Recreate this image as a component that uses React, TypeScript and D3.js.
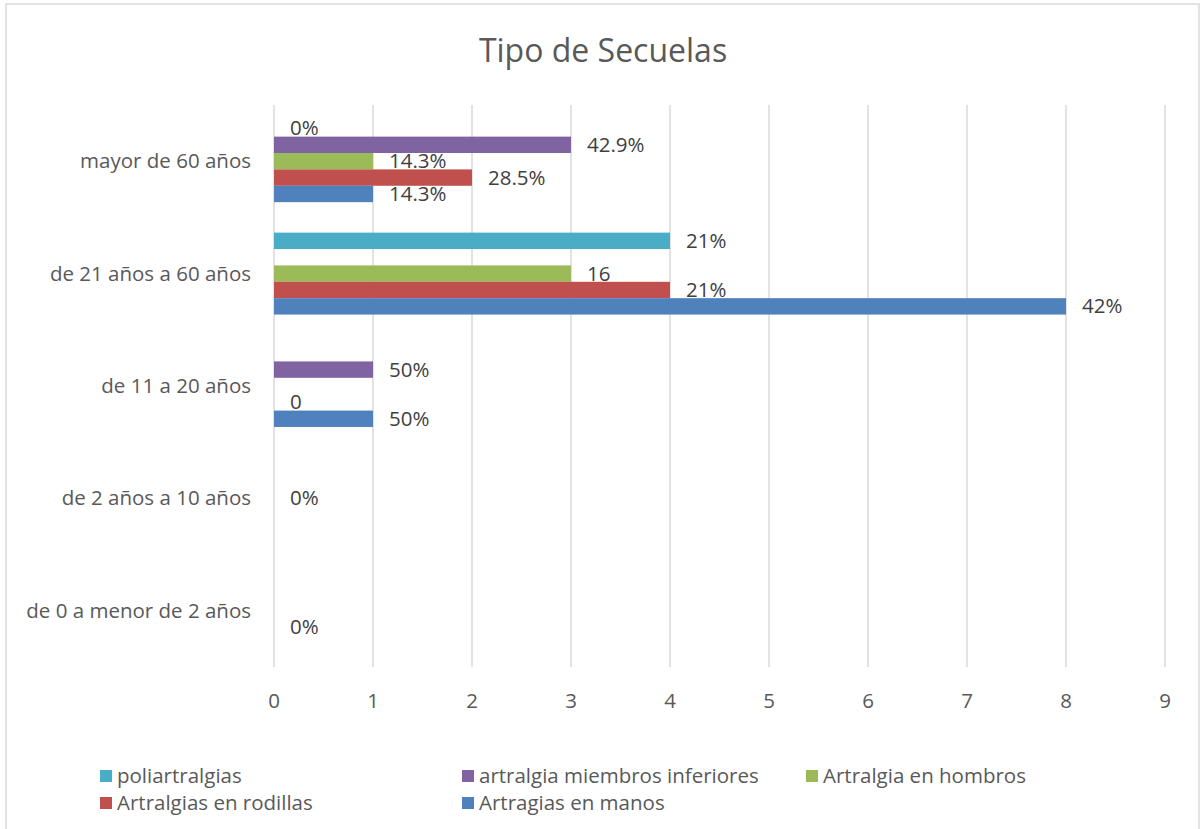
import React from "react";
import * as d3 from "d3";

const categories = [
  "de 0 a menor de 2 años",
  "de 2 años a 10 años",
  "de 11 a 20 años",
  "de 21 años a 60 años",
  "mayor de 60 años",
];

const seriesNames = [
  "poliartralgias",
  "artralgia miembros inferiores",
  "Artralgia en hombros",
  "Artralgias en rodillas",
  "Artragias en manos",
];

const seriesColors = ["#4bacc6", "#8064a2", "#9bbb59", "#c0504d", "#4f81bd"];

// values per category (same order as categories); null = no bar
const poliartralgias: (number | null)[] = [null, null, null, 4, 0];
const miembrosInferiores: (number | null)[] = [null, null, 1, null, 3];
const hombros: (number | null)[] = [null, 0, null, 3, 1];
const rodillas: (number | null)[] = [0, null, 0, 4, 2];
const manos: (number | null)[] = [null, null, 1, 8, 1];

const poliLabels: (string | null)[] = [null, null, null, "21%", "0%"];
const miembrosLabels: (string | null)[] = [null, null, "50%", null, "42.9%"];
const hombrosLabels: (string | null)[] = [null, "0%", null, "16", "14.3%"];
const rodillasLabels: (string | null)[] = ["0%", null, "0", "21%", "28.5%"];
const manosLabels: (string | null)[] = [null, null, "50%", "42%", "14.3%"];

const xTicks = [0, 1, 2, 3, 4, 5, 6, 7, 8, 9];

const seriesValues = [poliartralgias, miembrosInferiores, hombros, rodillas, manos];
const seriesLabels = [poliLabels, miembrosLabels, hombrosLabels, rodillasLabels, manosLabels];

const W = 1203;
const H = 829;
const FONT = "'Open Sans', 'Noto Sans', sans-serif";
const FS = 20.5;

export default function App() {
  const x = d3.scaleLinear().domain([0, 9]).range([274, 1165]);
  const y = d3
    .scaleBand<string>()
    .domain([...categories].reverse())
    .range([105, 667])
    .padding(0);
  const inner = d3
    .scaleBand<string>()
    .domain(seriesNames)
    .range([0, y.bandwidth()])
    .paddingInner(0)
    .paddingOuter(0.93);

  const legendItems = [
    { i: 0, lx: 100, ly: 776 },
    { i: 1, lx: 462, ly: 776 },
    { i: 2, lx: 806, ly: 776 },
    { i: 3, lx: 100, ly: 803 },
    { i: 4, lx: 462, ly: 803 },
  ];

  return (
    <svg
      width={W}
      height={H}
      style={{ position: "absolute", left: 0, top: 0, background: "#fff" }}
      fontFamily={FONT}
    >
      <rect x={6} y={4} width={1193} height={H} fill="#fff" stroke="#d9d9d9" strokeWidth={1.5} />
      <text x={603} y={62} textAnchor="middle" fontSize={32} fill="#595959">
        Tipo de Secuelas
      </text>

      {xTicks.map((t) => (
        <g key={t}>
          <line x1={x(t)} x2={x(t)} y1={105} y2={667} stroke="#d9d9d9" strokeWidth={1.5} />
          <text x={x(t)} y={708} textAnchor="middle" fontSize={FS} fill="#595959">
            {t}
          </text>
        </g>
      ))}

      {categories.map((c) => (
        <text
          key={c}
          x={251}
          y={(y(c) as number) + y.bandwidth() / 2 + 7}
          textAnchor="end"
          fontSize={FS}
          fill="#595959"
        >
          {c}
        </text>
      ))}

      {seriesNames.map((s, si) =>
        categories.map((c, ci) => {
          const v = seriesValues[si][ci];
          if (v === null) return null;
          const by = (y(c) as number) + (inner(s) as number);
          return (
            <rect
              key={s + c}
              x={x(0)}
              y={by}
              width={x(v) - x(0)}
              height={inner.bandwidth()}
              fill={seriesColors[si]}
            />
          );
        })
      )}

      {seriesNames.map((s, si) =>
        categories.map((c, ci) => {
          const v = seriesValues[si][ci];
          const lab = seriesLabels[si][ci];
          if (v === null || lab === null) return null;
          const cy = (y(c) as number) + (inner(s) as number) + inner.bandwidth() / 2;
          return (
            <text
              key={"l" + s + c}
              x={x(v) + 16}
              y={cy + 7}
              fontSize={FS}
              fill="#404040"
            >
              {lab}
            </text>
          );
        })
      )}

      {legendItems.map(({ i, lx, ly }) => (
        <g key={i}>
          <rect x={lx} y={ly - 6} width={12} height={12} fill={seriesColors[i]} />
          <text x={lx + 17} y={ly + 7} fontSize={FS} fill="#595959">
            {seriesNames[i]}
          </text>
        </g>
      ))}
    </svg>
  );
}
